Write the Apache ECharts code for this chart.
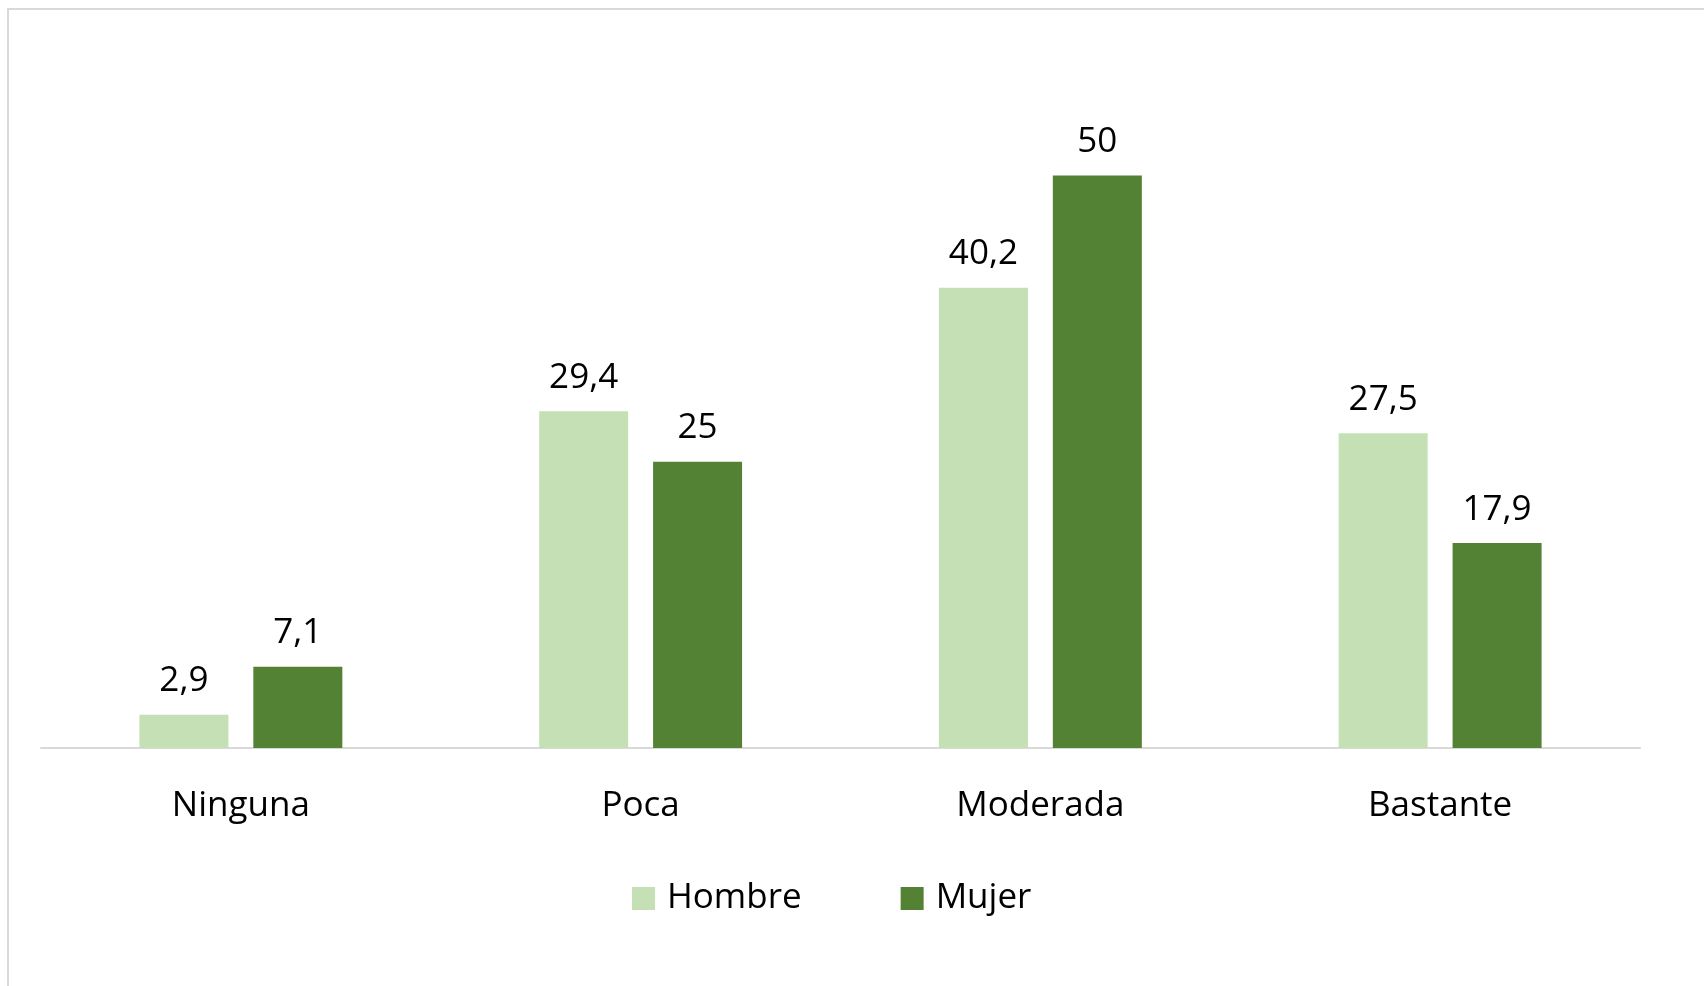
<!DOCTYPE html>
<html>
<head>
<meta charset="utf-8">
<script src="https://cdn.jsdelivr.net/npm/echarts@6/dist/echarts.min.js"></script>
<style>
html,body{margin:0;padding:0;background:#fff;}
#c{width:1704px;height:986px;}
</style>
</head>
<body>
<div id="c"></div>
<script>
const categories = ['Ninguna', 'Poca', 'Moderada', 'Bastante'];
const seriesNames = ['Hombre', 'Mujer'];
const hombre = [2.9, 29.4, 40.2, 27.5];
const mujer = [7.1, 25, 50, 17.9];

const chart = echarts.init(document.getElementById('c'), null, {renderer: 'canvas'});
const fontFamily = '"Open Sans", sans-serif';
const labelCfg = {
  show: true,
  position: 'top',
  distance: 16,
  color: '#000',
  fontFamily: fontFamily,
  fontSize: 35,
  formatter: p => String(p.value).replace('.', ',')
};
chart.setOption({
  animation: false,
  backgroundColor: '#fff',
  graphic: [{
    type: 'rect',
    shape: {x: 8, y: 9, width: 1800, height: 1100},
    style: {fill: 'none', stroke: '#d9d9d9', lineWidth: 2},
    silent: true
  }],
  grid: {left: 41, right: 64, top: 61, bottom: 238, containLabel: false},
  legend: {
    data: seriesNames,
    left: 627,
    top: 876,
    itemWidth: 23,
    itemHeight: 23,
    itemGap: 99,
    icon: 'rect',
    textStyle: {fontFamily: fontFamily, fontSize: 35, color: '#000', padding: [0, 0, 0, 7]}
  },
  xAxis: {
    type: 'category',
    data: categories,
    axisLine: {lineStyle: {color: '#d9d9d9', width: 2}},
    axisTick: {show: false},
    axisLabel: {fontFamily: fontFamily, fontSize: 35, color: '#000', margin: 41}
  },
  yAxis: {
    type: 'value',
    min: 0,
    max: 60,
    show: false,
    splitLine: {show: false}
  },
  series: [
    {name: seriesNames[0], type: 'bar', data: hombre, barWidth: 89, barGap: '28%',
     itemStyle: {color: '#c5e0b4'}, label: labelCfg},
    {name: seriesNames[1], type: 'bar', data: mujer, barWidth: 89, barGap: '28%',
     itemStyle: {color: '#548235'}, label: labelCfg}
  ]
});
</script>
</body>
</html>
